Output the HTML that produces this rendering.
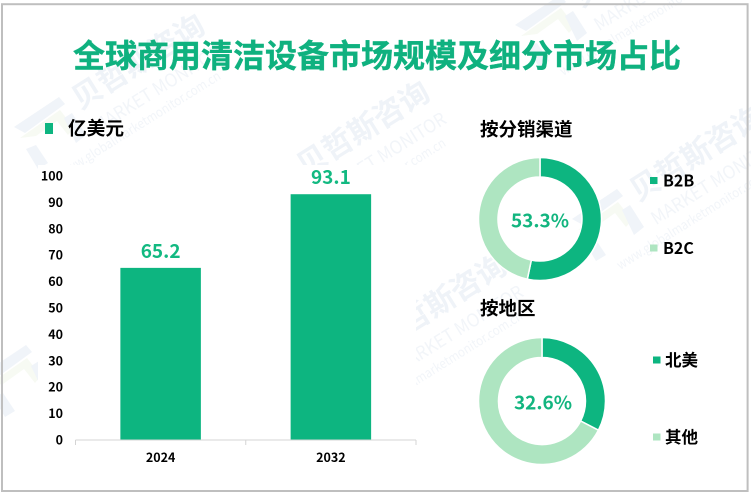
<!DOCTYPE html>
<html lang="zh-CN">
<head>
<meta charset="utf-8">
<title>全球商用清洁设备市场规模及细分市场占比</title>
<style>
html,body{margin:0;padding:0;background:#fff;overflow:hidden;}
body{width:751px;height:494px;}
svg{display:block;}
text{font-family:"Noto Sans CJK SC","Liberation Sans",sans-serif;}
.b{font-weight:700;}
.wm{fill:#eff3f8;font-weight:700;}
.wm2{fill:#f2f5f9;font-weight:400;}
</style>
</head>
<body>
<svg id="chart" xmlns="http://www.w3.org/2000/svg" width="751" height="494" viewBox="0 0 751 494">
  <g id="watermarks"></g>
  <rect x="38" y="165" width="378" height="311" fill="#fff"/>
  <rect x="2" y="4.2" width="745.6" height="486.8" fill="none" stroke="#bfbfbf" stroke-width="2"/>
  <text class="b" x="377" y="67" font-size="32" fill="#0fb17f" stroke="#0fb17f" stroke-width="0.4" text-anchor="middle">全球商用清洁设备市场规模及细分市场占比</text>
  <rect x="45" y="123" width="8" height="11" fill="#0db580"/>
  <text class="b" x="68" y="135" font-size="18.7" fill="#000">亿美元</text>
  <g id="bars"></g>
  <text class="b" x="480" y="136" font-size="18.5" fill="#000">按分销渠道</text>
  <text class="b" x="480" y="315" font-size="18.5" fill="#000">按地区</text>
  <g id="donuts"></g>
</svg>
<script>
var categories = ['2024', '2032'];
var barValues = [65.2, 93.1];
var yTicks = [0, 10, 20, 30, 40, 50, 60, 70, 80, 90, 100];
var channelLabels = ['B2B', 'B2C'];
var channelShares = [53.3, 46.7];
var regionLabels = ['北美', '其他'];
var regionShares = [32.6, 67.4];

var NS = 'http://www.w3.org/2000/svg';
var DARK = '#0db580';
var LIGHT = '#aee5c1';

function mk(tag, attrs, parent, txt) {
  var e = document.createElementNS(NS, tag);
  for (var k in attrs) { e.setAttribute(k, attrs[k]); }
  if (txt !== undefined) { e.textContent = txt; }
  parent.appendChild(e);
  return e;
}

/* watermarks */
var wm = document.getElementById('watermarks');
function watermark(x, y) {
  var g = mk('g', { transform: 'translate(' + x + ' ' + y + ') rotate(-32)' }, wm);
  
  
  mk('text', { x: -15, y: 11, 'font-size': 30, 'class': 'wm' }, g, '贝哲斯咨询');
  mk('text', { x: -12, y: 40, 'font-size': 18, textLength: 147, lengthAdjust: 'spacingAndGlyphs', 'class': 'wm2' }, g, 'MARKET MONITOR');
  mk('text', { x: -66, y: 59, 'font-size': 13, textLength: 188, lengthAdjust: 'spacingAndGlyphs', 'class': 'wm2' }, g, 'www.globalmarketmonitor.com.cn');
}
function logo(x, y) {
  var g = mk('g', { transform: 'translate(' + x + ' ' + y + ')' }, wm);
  
  
  mk('polygon', { points: '-28,2 17,-28 23,-21 -17,8', fill: '#f0f4f9' }, g);
  mk('polygon', { points: '-22,13 18,-15 32,3 26,10 15,-4 -6,11', fill: '#f7faf3' }, g);
  mk('polygon', { points: '22,-7 30,-12 44,10 34,18', fill: '#f0f4f9' }, g);
  mk('polygon', { points: '-16,24 -6,20 6,38 -4,44', fill: '#f0f4f9' }, g);
}
watermark(87, 93);
watermark(312, 160);
watermark(645, 185);
watermark(389, 333);
watermark(588, -9);
logo(42, 125);
logo(9, 373);
logo(600, 217);
logo(543, 23);

/* bar chart */
var bars = document.getElementById('bars');
var AX_L = 75.5, AX_R = 416, Y0 = 440, Y_PER_UNIT = 2.64, BAR_W = 80.5;
function yScale(v) { return Y0 - v * Y_PER_UNIT; }
function xBand(i) { return AX_L + (AX_R - AX_L) / categories.length * (i + 0.5); }

yTicks.forEach(function (t) {
  var el = mk('text', { x: 63, y: yScale(t) + 4.5, 'font-size': 12.5, 'class': 'b', 'text-anchor': 'end', fill: '#000' }, bars, String(t));
  
  
});

categories.forEach(function (c, i) {
  var cx = xBand(i);
  var r = mk('rect', { x: cx - BAR_W / 2, y: yScale(barValues[i]), width: BAR_W, height: Y0 - yScale(barValues[i]), fill: '#0db580' }, bars);
  
  
  var v = mk('text', { x: cx, y: yScale(barValues[i]) - 10, 'font-size': 19, 'class': 'b', 'text-anchor': 'middle', fill: '#12b981' }, bars, barValues[i].toFixed(1));
  
  
  var l = mk('text', { x: cx, y: 462, 'font-size': 12.5, 'class': 'b', 'text-anchor': 'middle', fill: '#000' }, bars, c);
  
  
});

var axis = mk('line', { x1: AX_L, x2: AX_R, y1: Y0.toString(), y2: Y0.toString(), stroke: '#d4d4d4', 'stroke-width': 1 }, bars);


for (var i = 0; i <= categories.length; i++) {
  var tx = AX_L + (AX_R - AX_L) / categories.length * i;
  var tk = mk('line', { x1: tx, x2: tx, y1: Y0, y2: Y0 + 5, stroke: '#d4d4d4', 'stroke-width': 1 }, bars);
  
  
}

/* donuts */
var donuts = document.getElementById('donuts');
function polar(cx, cy, r, frac) {
  var a = frac * 2 * Math.PI;
  return [cx + r * Math.sin(a), cy - r * Math.cos(a)];
}
function slicePath(cx, cy, R, r, f0, f1) {
  var large = (f1 - f0) > 0.5 ? 1 : 0;
  var p0 = polar(cx, cy, R, f0), p1 = polar(cx, cy, R, f1), p2 = polar(cx, cy, r, f1), p3 = polar(cx, cy, r, f0);
  return 'M' + p0[0] + ' ' + p0[1] + 'A' + R + ' ' + R + ' 0 ' + large + ' 1 ' + p1[0] + ' ' + p1[1] +
    'L' + p2[0] + ' ' + p2[1] + 'A' + r + ' ' + r + ' 0 ' + large + ' 0 ' + p3[0] + ' ' + p3[1] + 'Z';
}
function donut(name, shares, labels, cx, cy, R, r, labelX, labelY, legendX, legendTextX, legendYs, fontSize) {
  var total = shares.reduce(function (a, b) { return a + b; }, 0);
  var acc = 0;
  shares.forEach(function (s, i) {
    var f0 = acc / total, f1 = (acc + s) / total;
    acc += s;
    var p = mk('path', { d: slicePath(cx, cy, R, r, f0, f1), fill: i === 0 ? DARK : LIGHT, stroke: '#fff', 'stroke-width': 1.5 }, donuts);
    
    
    var sw = mk('rect', { x: legendX, y: legendYs[i] - 3.5, width: 7.5, height: 7, fill: i === 0 ? DARK : LIGHT }, donuts);
    
    
    var t = mk('text', { x: legendTextX, y: legendYs[i] + fontSize * 0.37, 'font-size': fontSize, 'class': 'b', fill: '#000' }, donuts, labels[i]);
    
    
  });
  var c = mk('text', { x: labelX, y: labelY, 'font-size': 19, 'class': 'b', 'text-anchor': 'middle', fill: '#12b57f' }, donuts, shares[0].toFixed(1) + '%');
  
  
}
donut('channel', channelShares, channelLabels, 540, 219, 61.5, 42, 540, 227.5, 650, 663, [180.5, 248], 16);
donut('region', regionShares, regionLabels, 542, 401, 63.5, 43.5, 543, 409.5, 653, 665, [360, 437], 16.5);
</script>
</body>
</html>
